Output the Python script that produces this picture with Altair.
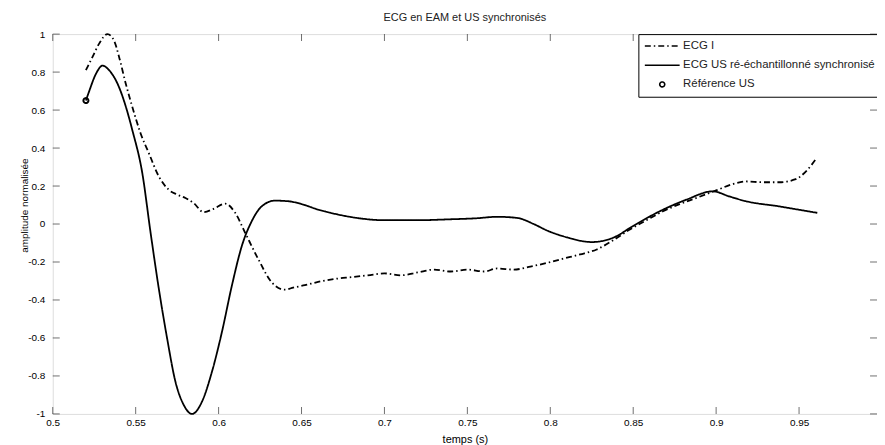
import altair as alt
import pandas as pd

# ---------------- data ----------------
series_names = ["ECG I", "ECG US ré-échantillonné synchronisé", "Référence US"]

ecg_i_t = [0.520, 0.524, 0.528, 0.533, 0.537, 0.540, 0.544, 0.548, 0.553, 0.558,
           0.564, 0.570, 0.575, 0.580, 0.585, 0.591, 0.597, 0.604, 0.610, 0.616,
           0.624, 0.632, 0.640, 0.645, 0.652, 0.660, 0.672, 0.680, 0.690, 0.700,
           0.710, 0.720, 0.730, 0.740, 0.750, 0.760, 0.768, 0.778, 0.788, 0.798,
           0.808, 0.818, 0.828, 0.838, 0.848, 0.858, 0.868, 0.878, 0.888, 0.900,
           0.910, 0.918, 0.928, 0.938, 0.948, 0.955, 0.960]
ecg_i_v = [0.81, 0.88, 0.95, 1.00, 0.965, 0.88, 0.74, 0.616, 0.477, 0.372,
           0.25, 0.18, 0.155, 0.137, 0.11, 0.062, 0.08, 0.107, 0.059, -0.046,
           -0.186, -0.307, -0.346, -0.335, -0.322, -0.305, -0.287, -0.28, -0.27, -0.26,
           -0.27, -0.255, -0.24, -0.25, -0.24, -0.25, -0.234, -0.24, -0.224, -0.205,
           -0.182, -0.16, -0.134, -0.085, -0.029, 0.02, 0.067, 0.105, 0.137, 0.177,
           0.21, 0.224, 0.22, 0.22, 0.236, 0.285, 0.34]

ecg_us_t = [0.520, 0.522, 0.526, 0.530, 0.534, 0.540, 0.544, 0.548, 0.554, 0.559,
            0.564, 0.569, 0.574, 0.579, 0.584, 0.590, 0.596, 0.602, 0.608, 0.614,
            0.620, 0.626, 0.634, 0.642, 0.650, 0.660, 0.672, 0.685, 0.700, 0.720,
            0.740, 0.755, 0.768, 0.780, 0.790, 0.798, 0.810, 0.825, 0.838, 0.850,
            0.866, 0.882, 0.898, 0.908, 0.918, 0.938, 0.950, 0.961]
ecg_us_v = [0.65, 0.70, 0.79, 0.834, 0.81, 0.72, 0.62, 0.494, 0.268, -0.046,
            -0.343, -0.604, -0.831, -0.953, -1.0, -0.935, -0.778, -0.569, -0.325, -0.116,
            0.015, 0.093, 0.123, 0.12, 0.105, 0.076, 0.05, 0.03, 0.02, 0.02,
            0.025, 0.03, 0.038, 0.032, 0.0, -0.034, -0.07, -0.095, -0.072, -0.01,
            0.067, 0.128, 0.172, 0.145, 0.12, 0.093, 0.075, 0.059]

ref_t = [0.52]
ref_v = [0.65]

x_ticks = [0.5, 0.55, 0.6, 0.65, 0.7, 0.75, 0.8, 0.85, 0.9, 0.95]
y_ticks = [-1, -0.8, -0.6, -0.4, -0.2, 0, 0.2, 0.4, 0.6, 0.8, 1]

# ---------------- tables ----------------
lines_df = pd.concat([
    pd.DataFrame({"t": ecg_i_t, "v": ecg_i_v, "series": series_names[0]}),
    pd.DataFrame({"t": ecg_us_t, "v": ecg_us_v, "series": series_names[1]}),
], ignore_index=True)
ref_df = pd.DataFrame({"t": ref_t, "v": ref_v, "series": series_names[2]})
xt_df = pd.DataFrame({"t": x_ticks})
yt_df = pd.DataFrame({"v": y_ticks})

W, H = 829, 382
FONT = "Liberation Sans"
TXT = "#222222"
AX = "#333333"

x_scale = alt.Scale(domain=[0.5, 0.997], nice=False, zero=False)
y_scale = alt.Scale(domain=[-1, 1], nice=False, zero=False)

label_expr = "datum.value == 0 ? '0' : (datum.value < 0 ? '-' : '') + format(abs(datum.value), '~g')"

x_axis = alt.Axis(values=x_ticks, title="temps (s)", domain=False, ticks=False, grid=False,
                  labelPadding=4, labelExpr=label_expr, labelFlush=False,
                  titleY=26, titleBaseline="middle",
                  titleFontWeight="normal", titleFont=FONT, titleFontSize=11)
y_axis = alt.Axis(values=y_ticks, title="amplitude normalisée", domain=False, ticks=False,
                  grid=False, labelPadding=8, labelExpr=label_expr, labelFlush=False,
                  titleX=-28, titleY=172, titleBaseline="middle", titleAngle=-90,
                  titleFontWeight="normal", titleFont=FONT, titleFontSize=10)

X = alt.X("t:Q", scale=x_scale, axis=x_axis)
Y = alt.Y("v:Q", scale=y_scale, axis=y_axis)

line_path = "M-3.5,0L3.5,0"
circ_path = "M-0.5,0A0.5,0.5 0 1,0 0.5,0A0.5,0.5 0 1,0 -0.5,0Z"

dash_scale = alt.Scale(domain=series_names, range=[[6, 3, 1.5, 3], [1, 0], [1, 0]])
shape_scale = alt.Scale(domain=series_names, range=[line_path, line_path, circ_path])

legend = alt.Legend(
    orient="none", legendX=589, legendY=0, title=None,
    fillColor="white", strokeColor="black", padding=6, cornerRadius=0,
    labelFont=FONT, labelFontSize=11.45, labelColor=TXT, labelLimit=400,
    symbolSize=100, symbolStrokeWidth=1.6, symbolStrokeColor="black",
    symbolFillColor="transparent",
    symbolOffset=12, labelOffset=15, rowPadding=7.3,
)

lines = alt.Chart(lines_df).mark_line(color="black", strokeWidth=1.8, interpolate="monotone").encode(
    x=X, y=Y,
    strokeDash=alt.StrokeDash("series:N", scale=dash_scale, legend=legend),
)

ref = alt.Chart(ref_df).mark_point(filled=False, color="black", strokeWidth=2, size=100,
                                   opacity=1).encode(
    x=X, y=Y,
    shape=alt.Shape("series:N", scale=shape_scale, legend=legend),
    strokeDash=alt.StrokeDash("series:N", scale=dash_scale, legend=legend),
)

tick_len = 7
xt_bottom = alt.Chart(xt_df).mark_tick(orient="vertical", color=AX, size=tick_len, thickness=1).encode(
    x=X, y=alt.value(H - tick_len / 2))
xt_top = alt.Chart(xt_df).mark_tick(orient="vertical", color=AX, size=tick_len, thickness=1).encode(
    x=X, y=alt.value(tick_len / 2))
yt_left = alt.Chart(yt_df).mark_tick(orient="horizontal", color=AX, size=tick_len, thickness=1).encode(
    y=Y, x=alt.value(tick_len / 2))
yt_right = alt.Chart(yt_df).mark_tick(orient="horizontal", color=AX, size=tick_len, thickness=1).encode(
    y=Y, x=alt.value(W - tick_len / 2))

chart = alt.layer(xt_bottom, xt_top, yt_left, yt_right, lines, ref).properties(
    width=W, height=H,
    title=alt.TitleParams("ECG en EAM et US synchronisés", font=FONT, fontSize=11, fontWeight="normal",
                          color=TXT, anchor="middle", frame="group", offset=6),
    autosize=alt.AutoSizeParams(type="none"),
    padding={"left": 45, "top": 25, "right": 0, "bottom": 30},
).configure_view(stroke=AX, strokeWidth=1).configure_axis(
    labelFont=FONT, labelFontSize=11, labelColor=TXT,
    titleFont=FONT, titleFontSize=11, titleColor=TXT, titleFontWeight="normal",
).configure(background="white")

chart.save("out.html", embed_options={"renderer": "svg", "actions": False})
